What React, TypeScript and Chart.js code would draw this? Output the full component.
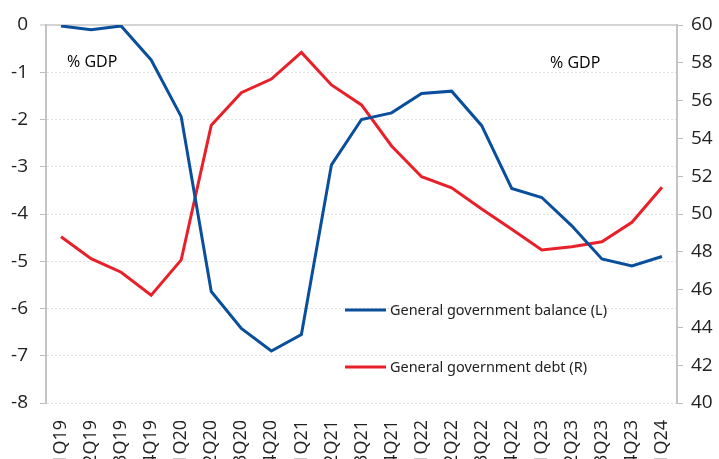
import React, { useEffect, useRef } from "react";
import { Chart, registerables } from "chart.js";

Chart.register(...registerables);

const categories = [
  "1Q19", "2Q19", "3Q19", "4Q19",
  "1Q20", "2Q20", "3Q20", "4Q20",
  "1Q21", "2Q21", "3Q21", "4Q21",
  "1Q22", "2Q22", "3Q22", "4Q22",
  "1Q23", "2Q23", "3Q23", "4Q23",
  "1Q24",
];

const balance = [
  -0.02, -0.1, -0.02, -0.74,
  -1.94, -5.64, -6.42, -6.9,
  -6.55, -2.96, -2.0, -1.86,
  -1.45, -1.4, -2.13, -3.46,
  -3.65, -4.25, -4.95, -5.1,
  -4.9,
];

const debt = [
  48.8, 47.64, 46.92, 45.7,
  47.57, 54.7, 56.42, 57.14,
  58.55, 56.83, 55.77, 53.6,
  51.97, 51.39, 50.26, 49.19,
  48.1, 48.27, 48.53, 49.56,
  51.41,
];

const seriesNames = ["General government balance (L)", "General government debt (R)"];
const unitLabel = "% GDP";

const BLUE = "#0a4f9c";
const RED = "#e8202a";
const AXIS_FONT = "'Open Sans', 'Liberation Sans', sans-serif";

const overlayPlugin = {
  id: "overlay",
  afterDatasetsDraw(chart: any) {
    const { ctx, chartArea } = chart;
    ctx.save();
    // unit labels
    ctx.fillStyle = "#000";
    ctx.font = `16px ${AXIS_FONT}`;
    ctx.textBaseline = "middle";
    ctx.textAlign = "left";
    ctx.fillText(unitLabel, chartArea.left + 21, 62);
    ctx.fillText(unitLabel, 550, 63);

    // legend
    const items = [
      { label: seriesNames[0], color: BLUE, y: 310, w: 217 },
      { label: seriesNames[1], color: RED, y: 367, w: 197 },
    ];
    ctx.font = "15px 'Noto Sans', sans-serif";
    for (const it of items) {
      ctx.strokeStyle = it.color;
      ctx.lineWidth = 3;
      ctx.beginPath();
      ctx.moveTo(345, it.y);
      ctx.lineTo(386, it.y);
      ctx.stroke();
      ctx.fillStyle = "#222";
      ctx.fillText(it.label, 390, it.y + 1, it.w);
    }
    ctx.restore();
  },
};

export default function App() {
  const ref = useRef<HTMLCanvasElement | null>(null);

  useEffect(() => {
    if (!ref.current) return;
    const chart = new Chart(ref.current, {
      type: "line",
      data: {
        labels: categories,
        datasets: [
          {
            label: seriesNames[0],
            data: balance,
            borderColor: BLUE,
            backgroundColor: BLUE,
            borderWidth: 3,
            pointRadius: 0,
            tension: 0,
            yAxisID: "y",
          },
          {
            label: seriesNames[1],
            data: debt,
            borderColor: RED,
            backgroundColor: RED,
            borderWidth: 3,
            pointRadius: 0,
            tension: 0,
            yAxisID: "y1",
          },
        ],
      },
      options: {
        responsive: false,
        animation: false,
        devicePixelRatio: 1,
        layout: { padding: { top: 25, left: 0, right: 0, bottom: 0 } },
        plugins: {
          legend: { display: false },
          tooltip: { enabled: false },
          title: { display: false },
        },
        scales: {
          x: {
            type: "category",
            offset: true,
            grid: { display: false, drawTicks: false },
            border: { display: false },
            ticks: {
              autoSkip: false,
              maxRotation: 90,
              minRotation: 90,
              padding: 17,
              color: "#222",
              font: { family: AXIS_FONT, size: 18 },
            },
            afterFit(scale: any) {
              scale.height = 77;
            },
          },
          y: {
            position: "left",
            min: -8,
            max: 0,
            ticks: {
              stepSize: 1,
              padding: 12,
              color: "#222",
              font: { family: AXIS_FONT, size: 19 },
            },
            grid: {
              color: (c: any) => (c.tick && c.tick.value === 0 ? "#d4d4d4" : "#e0e0e0"),
              lineWidth: (c: any) => (c.tick && c.tick.value === 0 ? 2 : 1),
              tickColor: "#bdbdbd",
              tickLength: 6,
              tickWidth: 1,
            },
            border: {
              display: true,
              color: "#c4c4c4",
              width: 2,
              dash: (c: any) => (c.tick && c.tick.value === 0 ? [] : [2, 2]),
            },
            afterFit(scale: any) {
              scale.width = 46;
            },
          },
          y1: {
            position: "right",
            min: 40,
            max: 60,
            ticks: {
              stepSize: 2,
              padding: 8,
              color: "#222",
              font: { family: AXIS_FONT, size: 19 },
            },
            grid: {
              drawOnChartArea: false,
              tickColor: "#bdbdbd",
              tickLength: 6,
            },
            border: { display: true, color: "#c4c4c4", width: 2 },
            afterFit(scale: any) {
              scale.width = 42;
            },
          },
        },
      },
      plugins: [overlayPlugin],
    } as any);
    return () => chart.destroy();
  }, []);

  return (
    <div
      style={{
        position: "fixed",
        left: 0,
        top: 0,
        width: 719,
        height: 459,
        overflow: "hidden",
        background: "#fff",
      }}
    >
      <canvas ref={ref} width={719} height={480} style={{ display: "block" }} />
    </div>
  );
}
